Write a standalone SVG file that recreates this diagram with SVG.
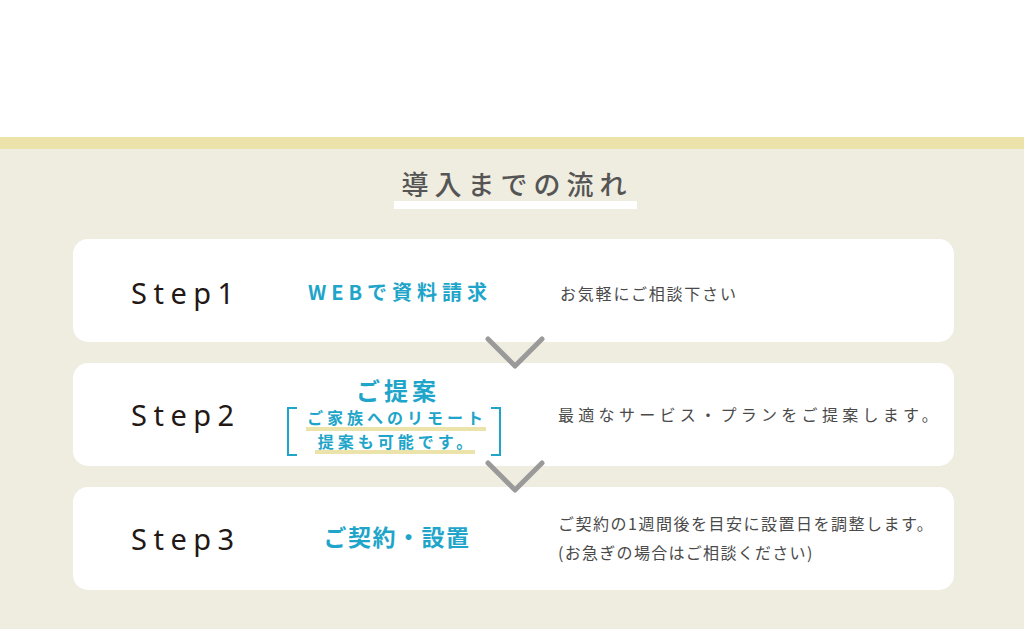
<svg xmlns="http://www.w3.org/2000/svg" width="1024" height="632" viewBox="0 0 1024 632">
<style>
.card{fill:#ffffff}
.step{font-family:"Noto Sans","Open Sans",sans-serif;font-size:29px;fill:#231815;letter-spacing:6.5px}
.blue{font-family:"Noto Sans CJK JP",sans-serif;font-weight:bold;fill:#1ea5c9;text-anchor:middle}
.desc{font-family:"Noto Sans CJK JP",sans-serif;font-size:16px;fill:#4a4a4a}
.chev{fill:none;stroke:#9a9a9a;stroke-width:5;stroke-linecap:round;stroke-linejoin:round}
.br{fill:none;stroke:#1ea5c9;stroke-width:2}
</style>
<rect x="0" y="0" width="1024" height="632" fill="#ffffff"/>
<rect x="0" y="137" width="1024" height="12" fill="#ebe3a9"/>
<rect x="0" y="149" width="1024" height="480" fill="#efece0"/>
<g id="title">
<rect x="394" y="201" width="243" height="8" fill="#ffffff"/>
<text x="517" y="195" text-anchor="middle" font-family="Noto Sans CJK JP,sans-serif" font-size="27" font-weight="500" fill="#555555" letter-spacing="6">導入までの流れ</text>
</g>
<g id="step1">
<rect class="card" x="73" y="239" width="881" height="103" rx="15"/>
<text class="step" x="131" y="304">Step1</text>
<text class="blue" x="400" y="300" font-size="20" letter-spacing="5">WEBで資料請求</text>
<text class="desc" x="560" y="300" letter-spacing="1.8">お気軽にご相談下さい</text>
</g>
<g id="step2">
<rect class="card" x="73" y="363" width="881" height="103" rx="15"/>
<text class="step" x="131" y="426">Step2</text>
<text class="blue" x="398" y="400" font-size="24" letter-spacing="4">ご提案</text>
<path class="br" d="M297 408 H288 V455 H297"/>
<path class="br" d="M491 408 H500 V455 H491"/>
<rect x="306" y="427" width="180" height="4" fill="#ebe3a9"/>
<rect x="315" y="450" width="160" height="4" fill="#ebe3a9"/>
<text class="blue" x="397" y="424" font-size="16" letter-spacing="4">ご家族へのリモート</text>
<text class="blue" x="397" y="448" font-size="16" letter-spacing="4">提案も可能です。</text>
<text class="desc" x="558" y="421" letter-spacing="4.3">最適なサービス・プランをご提案します。</text>
</g>
<g id="step3">
<rect class="card" x="73" y="487" width="881" height="103" rx="15"/>
<text class="step" x="131" y="550">Step3</text>
<text class="blue" x="397" y="546" font-size="23" letter-spacing="1.5">ご契約・設置</text>
<text class="desc" x="558" y="530" letter-spacing="1.5">ご契約の1週間後を目安に設置日を調整します。</text>
<text class="desc" x="558" y="559" letter-spacing="1.3">(お急ぎの場合はご相談ください)</text>
</g>
<g id="connectors">
<polyline class="chev" points="488,339 515,366 542,339"/>
<polyline class="chev" points="488,463 515,490 542,463"/>
</g>
</svg>
